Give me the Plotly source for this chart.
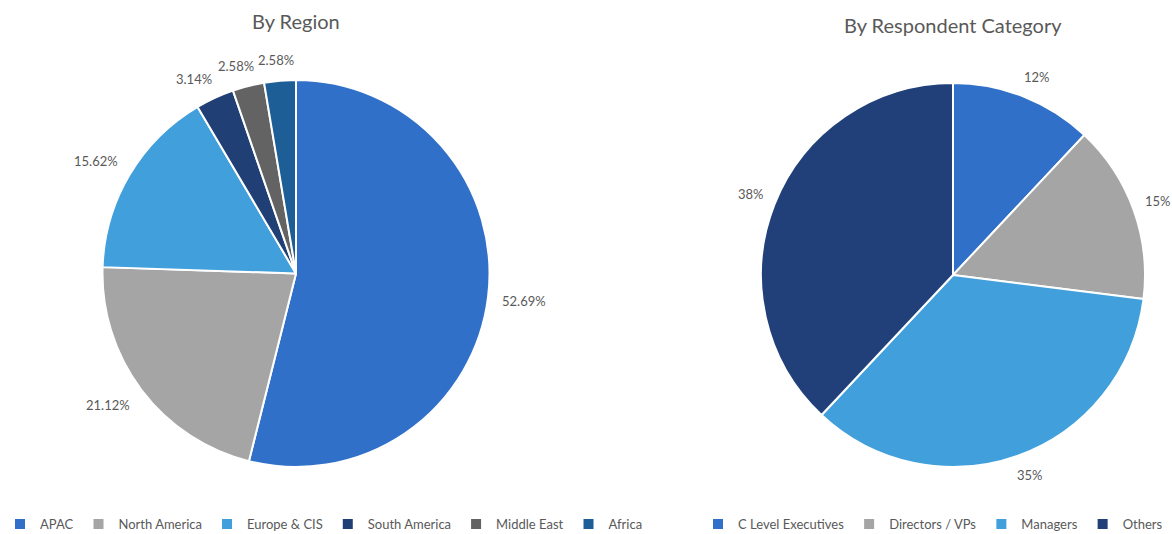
import math
import plotly.graph_objects as go

# Survey split by region
region_labels = ["APAC", "North America", "Europe & CIS", "South America", "Middle East", "Africa"]
region_values = [52.69, 21.12, 15.62, 3.14, 2.58, 2.58]
region_colors = ["#3070C8", "#A5A5A5", "#41A0DC", "#203F75", "#636363", "#1D5E96"]

# Survey split by respondent category
category_labels = ["C Level Executives", "Directors / VPs", "Managers", "Others"]
category_values = [12, 15, 35, 38]
category_colors = ["#3070C8", "#A5A5A5", "#41A0DC", "#21407A"]

FONT = "Lato, Open Sans, sans-serif"
TEXT = "#595959"
LABEL_SIZE = 13

W, H = 1172, 534

# pie geometry in pixels: (centre x, centre y, radius)
REGION_PIE = (296, 273.5, 193.5)
CATEGORY_PIE = (953, 275, 192)


def pie_domain(cx, cy, r):
    return dict(x=[(cx - r) / W, (cx + r) / W],
                y=[(H - cy - r) / H, (H - cy + r) / H])


def outside_labels(values, texts, geom, gap=14):
    """Percent labels sitting just outside each slice, Excel style."""
    cx, cy, r = geom
    total = float(sum(values))
    out = []
    acc = 0.0
    for v, t in zip(values, texts):
        mid = (acc + v / 2) / total * 2 * math.pi   # clockwise from 12 o'clock
        acc += v
        sx, sy = math.sin(mid), -math.cos(mid)     # screen direction (y down)
        px = cx + (r + gap) * sx
        py = cy + (r + gap) * sy
        w = len(t) * 0.56 * LABEL_SIZE
        h = LABEL_SIZE
        clamp = lambda a: max(-1.0, min(1.0, a / 0.5))
        bx = px + w / 2 * clamp(sx)
        by = py + h / 2 * clamp(sy)
        out.append(dict(text=t, x=bx / W, y=1 - by / H, xref="paper", yref="paper",
                        xanchor="center", yanchor="middle", showarrow=False,
                        font=dict(family=FONT, size=LABEL_SIZE, color=TEXT)))
    return out


fig = go.Figure()

fig.add_trace(go.Pie(
    labels=region_labels,
    values=region_values,
    marker=dict(colors=region_colors, line=dict(color="white", width=2)),
    sort=False,
    direction="clockwise",
    rotation=0,
    textinfo="none",
    hovertemplate="%{label}: %{value:.2f}%<extra></extra>",
    domain=pie_domain(*REGION_PIE),
    legend="legend",
))

fig.add_trace(go.Pie(
    labels=category_labels,
    values=category_values,
    marker=dict(colors=category_colors, line=dict(color="white", width=2)),
    sort=False,
    direction="clockwise",
    rotation=0,
    textinfo="none",
    hovertemplate="%{label}: %{value}%<extra></extra>",
    domain=pie_domain(*CATEGORY_PIE),
    legend="legend2",
))

legend_style = dict(
    orientation="h",
    yanchor="middle",
    y=(H - 524) / H,
    xanchor="left",
    font=dict(family=FONT, size=13, color=TEXT),
    itemwidth=30,
    bgcolor="rgba(0,0,0,0)",
)

annotations = [
    dict(text="By Region", x=296 / W, y=(H - 21) / H, xref="paper", yref="paper",
         xanchor="center", yanchor="middle", showarrow=False,
         font=dict(family=FONT, size=20, color=TEXT)),
    dict(text="By Respondent Category", x=953 / W, y=(H - 25) / H, xref="paper", yref="paper",
         xanchor="center", yanchor="middle", showarrow=False,
         font=dict(family=FONT, size=20, color=TEXT)),
]
annotations += outside_labels(region_values, [f"{v:.2f}%" for v in region_values], REGION_PIE)
annotations += outside_labels(category_values, [f"{v}%" for v in category_values], CATEGORY_PIE)

fig.update_layout(
    width=W,
    height=H,
    margin=dict(l=0, r=0, t=0, b=0, autoexpand=False),
    paper_bgcolor="white",
    plot_bgcolor="white",
    font=dict(family=FONT, color=TEXT),
    legend=dict(x=0, **legend_style),
    legend2=dict(x=698 / W, **legend_style),
    annotations=annotations,
)

fig.write_html("out.html")
